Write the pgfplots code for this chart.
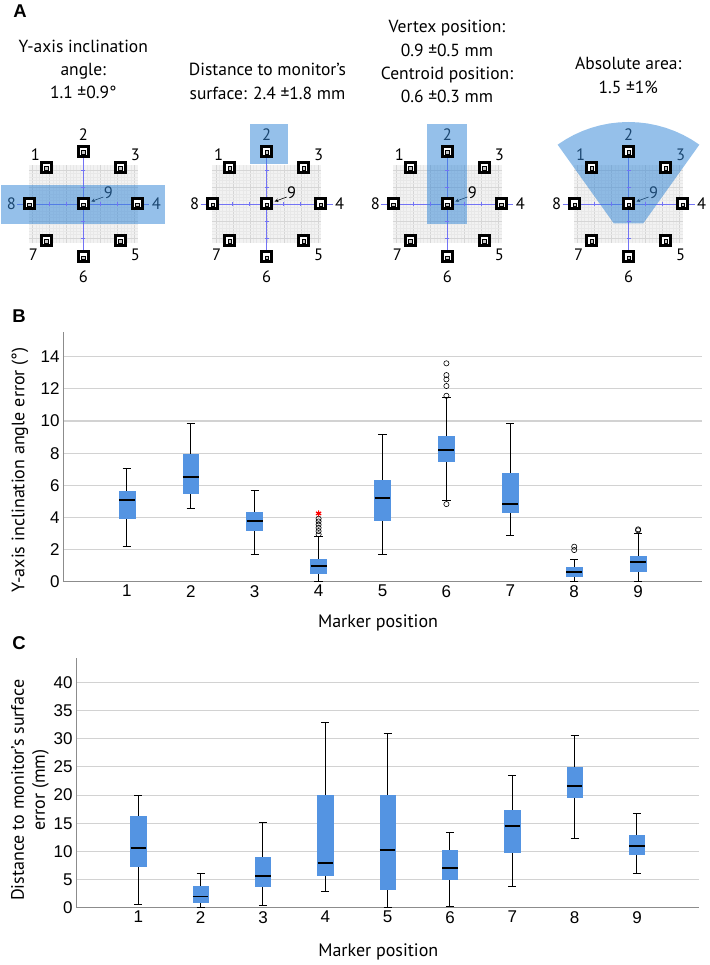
\documentclass[border=0pt]{standalone}
\usepackage{pgfplots}
\pgfplotsset{compat=1.18}
\usepgfplotslibrary{statistics}
\usepackage{fontspec}
\setmainfont{PT Sans}
\newfontfamily\arialf{Liberation Sans}
\definecolor{boxblue}{RGB}{84,148,226}
\definecolor{gridgray}{RGB}{210,210,210}
\definecolor{axgray}{RGB}{140,140,140}
\definecolor{hl}{RGB}{52,135,215}
\definecolor{xblue}{RGB}{115,115,245}
\definecolor{gridbg}{RGB}{242,242,242}
\newcommand{\tickfont}{\arialf\fontsize{17}{17}\selectfont}
\newcommand{\labfont}{\fontsize{18}{21}\selectfont}
\newcommand{\titfont}{\fontsize{17.5}{23.3}\selectfont}
\newcommand{\numfont}{\fontsize{16.5}{16.5}\selectfont}
\newcommand{\panfont}{\arialf\bfseries\fontsize{18.5}{18.5}\selectfont}

\pgfplotsset{
  diag/.style={scale only axis, width=109pt, height=77pt,
    xmin=-54.5, xmax=54.5, ymin=-38.5, ymax=38.5, clip=false,
    axis line style={draw=none},
    xtick={-51,-34,-17,0,17,34,51}, ytick={-34,-17,0,17,34},
    minor tick num=4, grid=both,
    major grid style={draw=black!16, line width=0.35pt},
    minor grid style={draw=black!9, line width=0.25pt},
    xticklabels={}, yticklabels={},
    major tick length=0pt, minor tick length=0pt,
    axis background/.style={fill=gridbg}},
  bx/.style={scale only axis, xmin=0, xmax=10, ymin=0,
    axis x line*=bottom, axis y line*=left,
    axis line style={draw=axgray, line width=0.9pt},
    ymajorgrids, major grid style={draw=gridgray, line width=1.1pt},
    xtick={1,2,...,9}, major tick length=0pt,
    tick label style={font=\tickfont},
    /pgf/number format/assume math mode=true,
    label style={font=\labfont}},
  boxst/.style={draw=black, line width=1pt, solid,
    boxplot/draw direction=y,
    boxplot/box extend=0.25, boxplot/whisker extend=0.13,
    boxplot/every box/.style={fill=boxblue, draw=boxblue, line width=0.6pt},
    boxplot/every median/.style={draw=black, line width=1.9pt}},
  outl/.style={only marks, mark=o, mark size=2.6pt,
    mark options={draw=black, fill=white, line width=0.6pt}},
}

\newcommand{\bplot}[6]{\addplot[boxst, boxplot prepared={draw position=#1,
  lower whisker=#2, lower quartile=#3, median=#4, upper quartile=#5, upper whisker=#6}] coordinates {};}

\newcommand{\diagram}[2]{%
\begin{axis}[diag, at={(#1pt,-204pt)}, anchor=center]
 \addplot[xblue, line width=0.7pt] coordinates {(-66,0) (66,0)};
 \addplot[xblue, line width=0.7pt] coordinates {(0,-52) (0,52)};
 \addplot[only marks, xblue, mark=|, mark size=2pt, mark options={line width=0.5pt}] coordinates {(-34,0) (-17,0) (17,0) (34,0)};
 \addplot[only marks, xblue, mark=-, mark size=2pt, mark options={line width=0.5pt}] coordinates {(0,-34) (0,-17) (0,17) (0,34)};
 \addplot[only marks, mark=square*, mark size=5pt, mark options={draw=black, fill=white, line width=3pt}]
   coordinates {(0,52.3) (-37,36.7) (37,36.7) (-54,0) (0,0) (54,0) (-37,-36.7) (37,-36.7) (0,-52.7)};
 \addplot[only marks, mark=square*, mark size=1.8pt, mark options={draw=none, fill=black!22}]
   coordinates {(0,51.5) (-37,35.9) (37,35.9) (-54,-0.8) (0,-0.8) (54,-0.8) (-37,-37.5) (37,-37.5) (0,-53.5)};
 \node[font=\numfont] at (axis cs:0,69) {2};
 \node[font=\numfont] at (axis cs:-48,49) {1};
 \node[font=\numfont] at (axis cs:52,49) {3};
 \node[font=\numfont] at (axis cs:-72,0) {8};
 \node[font=\numfont] at (axis cs:73,0) {4};
 \node[font=\numfont] at (axis cs:-50,-51) {7};
 \node[font=\numfont] at (axis cs:52,-51) {5};
 \node[font=\numfont] at (axis cs:0,-73) {6};
 \node[font=\numfont] at (axis cs:25,11) {9};
 \addplot[-stealth, black, line width=0.6pt] coordinates {(20,7) (8,2.5)};
 \addplot[fill=hl, fill opacity=0.52, draw=none] coordinates {#2};
\end{axis}}

\begin{document}
\begin{tikzpicture}[x=1pt,y=1pt]
\path[use as bounding box] (0,0) rectangle (709,-965);
\node[font=\panfont] at (20,-11) {A};
\node[font=\panfont] at (19,-315.7) {B};
\node[font=\panfont] at (19,-643.3) {C};

\node[font=\titfont, align=center] at (83.3,-69.5) {Y-axis inclination\\angle:\\1.1 ±0.9°};
\node[font=\titfont, align=center] at (267.5,-81.5) {Distance to monitor’s\\surface: 2.4 ±1.8 mm};
\node[font=\titfont, align=center] at (447,-61.7) {Vertex position:\\0.9 ±0.5 mm\\Centroid position:\\0.6 ±0.3 mm};
\node[font=\titfont, align=center] at (628.3,-75.3) {Absolute area:\\1.5 ±1\%};

\diagram{83.3}{(-82,-20.3) (82,-20.3) (82,19) (-82,19)}
\diagram{266.7}{(-17,40) (21,40) (21,80) (-17,80)}
\diagram{447.3}{(-20,-20.3) (20,-20.3) (20,80) (-20,80)}
\diagram{628.5}{(-70.85,59.32) (-62.95,64.50) (-54.77,69.02) (-46.08,72.96) (-37.20,76.19) (-28.08,78.72) (-18.83,80.54) (-9.44,81.63) (0,82) (9.44,81.63) (18.83,80.54) (28.08,78.72) (37.20,76.19) (46.08,72.96) (54.77,69.02) (62.95,64.50) (70.85,59.32) (14.8,-19.3) (-14.8,-19.3)}

% Panel B
\begin{axis}[bx, at={(63pt,-581.7pt)}, anchor=south west, width=639pt, height=250pt,
  ymax=15.56, ytick={0,2,...,14},
  xlabel={Marker position}, ylabel={Y-axis inclination angle error (°)},
  xlabel style={at={(axis description cs:0.493,-0.165)}, anchor=center},
  ylabel style={at={(axis description cs:-0.0673,0.447)}, anchor=center}]
\bplot{1}{2.22}{3.94}{5.08}{5.60}{7.05}
\bplot{2}{4.58}{5.50}{6.53}{7.90}{9.85}
\bplot{3}{1.72}{3.17}{3.80}{4.29}{5.70}
\bplot{4}{0.00}{0.52}{1.00}{1.39}{2.80}
\bplot{5}{1.70}{3.84}{5.19}{6.33}{9.19}
\bplot{6}{5.08}{7.47}{8.17}{9.06}{11.47}
\bplot{7}{2.86}{4.29}{4.85}{6.74}{9.85}
\bplot{8}{0.00}{0.35}{0.60}{0.89}{1.39}
\bplot{9}{0.00}{0.62}{1.24}{1.60}{3.00}
\addplot[outl] coordinates {(4,2.95) (4,3.15) (4,3.35) (4,3.55) (4,3.75) (4,3.92)
  (6,4.83) (6,11.57) (6,12.18) (6,12.59) (6,12.86) (6,13.59)
  (8,1.97) (8,2.18) (9,3.2) (9,3.26)};
\addplot[only marks, mark=asterisk, mark size=3pt, red, mark options={line width=1.2pt}] coordinates {(4,4.25)};
\end{axis}

% Panel C
\begin{axis}[bx, at={(76pt,-907.7pt)}, anchor=south west, width=623.3pt, height=250pt,
  ymax=44.4, ytick={0,5,...,40},
  xlabel={Marker position}, ylabel={Distance to monitor’s surface\\error (mm)},
  xlabel style={at={(axis description cs:0.485,-0.176)}, anchor=center},
  ylabel style={at={(axis description cs:-0.0738,0.47)}, anchor=center, align=center}]
\bplot{1}{0.65}{7.40}{10.65}{16.15}{19.88}
\bplot{2}{0.05}{0.89}{2.00}{3.79}{6.10}
\bplot{3}{0.47}{3.85}{5.62}{8.88}{15.09}
\bplot{4}{2.84}{5.80}{7.87}{20.00}{32.90}
\bplot{5}{0.00}{3.25}{10.30}{20.00}{31.00}
\bplot{6}{0.24}{5.09}{7.10}{10.24}{13.30}
\bplot{7}{3.73}{9.82}{14.56}{17.34}{23.50}
\bplot{8}{12.25}{19.53}{21.54}{24.85}{30.65}
\bplot{9}{6.04}{9.47}{10.89}{12.90}{16.69}
\end{axis}
\end{tikzpicture}
\end{document}
